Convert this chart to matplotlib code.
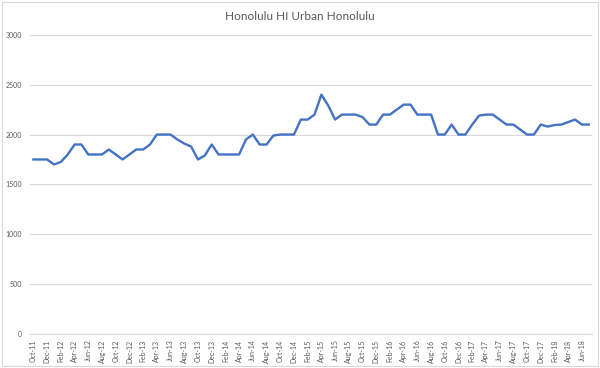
import numpy as np
import matplotlib
matplotlib.use('Agg')
import matplotlib.pyplot as plt
from matplotlib.patches import Rectangle

plt.rcParams['font.family'] = ['Lato', 'DejaVu Sans']

# Monthly values, Oct-11 .. Jul-18
months = ['Oct-11', 'Nov-11', 'Dec-11',
          'Jan-12', 'Feb-12', 'Mar-12', 'Apr-12', 'May-12', 'Jun-12',
          'Jul-12', 'Aug-12', 'Sep-12', 'Oct-12', 'Nov-12', 'Dec-12',
          'Jan-13', 'Feb-13', 'Mar-13', 'Apr-13', 'May-13', 'Jun-13',
          'Jul-13', 'Aug-13', 'Sep-13', 'Oct-13', 'Nov-13', 'Dec-13',
          'Jan-14', 'Feb-14', 'Mar-14', 'Apr-14', 'May-14', 'Jun-14',
          'Jul-14', 'Aug-14', 'Sep-14', 'Oct-14', 'Nov-14', 'Dec-14',
          'Jan-15', 'Feb-15', 'Mar-15', 'Apr-15', 'May-15', 'Jun-15',
          'Jul-15', 'Aug-15', 'Sep-15', 'Oct-15', 'Nov-15', 'Dec-15',
          'Jan-16', 'Feb-16', 'Mar-16', 'Apr-16', 'May-16', 'Jun-16',
          'Jul-16', 'Aug-16', 'Sep-16', 'Oct-16', 'Nov-16', 'Dec-16',
          'Jan-17', 'Feb-17', 'Mar-17', 'Apr-17', 'May-17', 'Jun-17',
          'Jul-17', 'Aug-17', 'Sep-17', 'Oct-17', 'Nov-17', 'Dec-17',
          'Jan-18', 'Feb-18', 'Mar-18', 'Apr-18', 'May-18', 'Jun-18',
          'Jul-18']

values = [1750, 1750, 1750,
          1700, 1725, 1800, 1900, 1900, 1800,
          1800, 1800, 1850, 1800, 1750, 1800,
          1850, 1850, 1900, 2000, 2000, 2000,
          1950, 1910, 1880, 1750, 1790, 1900,
          1800, 1800, 1800, 1800, 1950, 2000,
          1900, 1900, 1990, 2000, 2000, 2000,
          2150, 2150, 2200, 2400, 2290, 2150,
          2200, 2200, 2200, 2175, 2100, 2100,
          2200, 2200, 2250, 2300, 2300, 2200,
          2200, 2200, 2000, 2000, 2100, 2000,
          2000, 2100, 2190, 2200, 2200, 2150,
          2100, 2100, 2050, 2000, 2000, 2100,
          2080, 2095, 2100, 2125, 2150, 2100,
          2100]

title = "Honolulu HI Urban Honolulu"
grid_col = '#D9D9D9'
text_col = '#595959'

fig = plt.figure(figsize=(6, 3.68), dpi=100)
ax = fig.add_axes([0.05, 0.0924, 0.937, 0.813])

x = np.arange(len(values))
ax.plot(x, values, color='#4472C4', linewidth=1.7, solid_joinstyle='round')

ax.set_xlim(-0.5, len(values) - 0.5)
ax.set_ylim(0, 3000)
ax.set_yticks(np.arange(0, 3001, 500))
ax.yaxis.grid(True, color=grid_col, linewidth=0.8)
ax.set_axisbelow(True)

ax.set_xticks(x[::2])
ax.set_xticklabels(months[::2], rotation=90, fontsize=5, color=text_col)
ax.tick_params(axis='y', labelsize=5, labelcolor=text_col, length=0, pad=6)
ax.tick_params(axis='x', length=0, pad=4)

for s in ['top', 'right', 'left']:
    ax.spines[s].set_visible(False)
ax.spines['bottom'].set_color(grid_col)
ax.spines['bottom'].set_linewidth(0.8)

fig.text(0.5, 0.954, title, ha='center', va='center', fontsize=8.5, color=text_col)

# chart border
fig.patches.append(Rectangle((0.004, 0.006), 0.992, 0.988, transform=fig.transFigure,
                             fill=False, edgecolor=grid_col, linewidth=0.8))

plt.savefig('out.png', dpi=100)
